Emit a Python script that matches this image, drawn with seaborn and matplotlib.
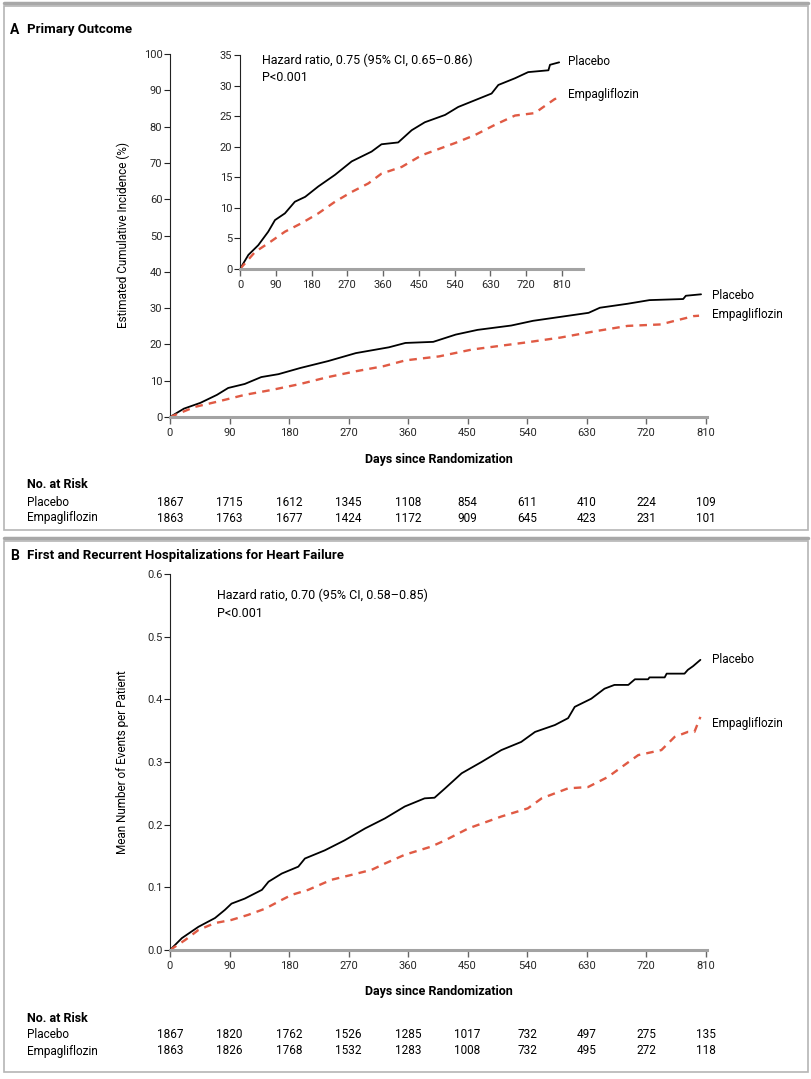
import matplotlib
matplotlib.use('Agg')
import numpy as np
import pandas as pd
import seaborn as sns
import matplotlib.pyplot as plt
import matplotlib.transforms as mtransforms
from matplotlib import font_manager
from matplotlib.patches import Rectangle

# ---- values ----
days_ticks = [0, 90, 180, 270, 360, 450, 540, 630, 720, 810]

# A: primary outcome, cumulative incidence (%)
a_placebo_day = [0, 21, 46, 71, 88, 113, 138, 164, 197, 239, 281, 331, 356, 398, 432,
                 465, 516, 549, 591, 633, 650, 692, 725, 776, 780, 803]
a_placebo_pct = [0, 2.3, 3.9, 6.1, 8.0, 9.1, 11.0, 11.8, 13.5, 15.4, 17.6, 19.2, 20.4, 20.7, 22.7,
                 24.0, 25.2, 26.5, 27.6, 28.7, 30.1, 31.2, 32.2, 32.5, 33.4, 33.8]
a_empa_day = [0, 38, 71, 113, 155, 197, 239, 281, 323, 356, 407, 457, 499, 541,
              591, 642, 692, 742, 759, 792, 800]
a_empa_pct = [0, 2.8, 4.2, 6.1, 7.5, 9.1, 11.0, 12.6, 14.0, 15.6, 16.7, 18.6, 19.6, 20.6,
              21.9, 23.6, 25.1, 25.5, 26.3, 27.8, 27.9]

risk_a_placebo = [1867, 1715, 1612, 1345, 1108, 854, 611, 410, 224, 109]
risk_a_empa = [1863, 1763, 1677, 1424, 1172, 909, 645, 423, 231, 101]

# B: first and recurrent HF hospitalizations, mean events per patient
b_placebo_day = [0, 18, 43, 68, 83, 93, 113, 139, 149, 169, 194, 204, 234, 264, 295, 325, 355,
                 385, 400, 416, 441, 471, 501, 531, 552, 582, 602, 612, 637, 657, 672, 693, 703,
                 723, 725, 748, 751, 778, 783, 791, 802]
b_placebo_mean = [0, .019, .037, .051, .064, .074, .082, .096, .109, .122, .133, .146, .159, .175,
                  .194, .210, .229, .242, .243, .258, .282, .300, .319, .332, .348, .359, .370, .388,
                  .401, .417, .423, .423, .432, .432, .435, .435, .441, .441, .447, .453, .463]
b_empa_day = [0, 23, 43, 68, 93, 118, 144, 169, 184, 209, 244, 275, 305, 325, 355, 395, 416,
              451, 501, 541, 562, 602, 632, 662, 683, 708, 743, 763, 783, 793, 802]
b_empa_mean = [0, .016, .032, .043, .048, .056, .066, .080, .088, .096, .112, .120, .128, .138,
               .152, .165, .175, .194, .213, .226, .242, .258, .260, .276, .292, .311, .319, .340,
               .348, .348, .372]

risk_b_placebo = [1867, 1820, 1762, 1526, 1285, 1017, 732, 497, 275, 135]
risk_b_empa = [1863, 1826, 1768, 1532, 1283, 1008, 732, 495, 272, 118]

RED = '#e05a44'
W, H = 812, 1079

sns.set_theme(style='ticks')
names = {f.name for f in font_manager.fontManager.ttflist}
fam = 'Liberation Sans Narrow' if 'Liberation Sans Narrow' in names else 'Roboto'
plt.rcParams['font.family'] = [fam, 'DejaVu Sans']
plt.rcParams['text.color'] = 'black'
plt.rcParams['axes.labelcolor'] = 'black'

fig = plt.figure(figsize=(W / 100, H / 100), dpi=100)
fig.patch.set_facecolor('white')


def px_axes(left, top, right, bottom):
    # pixel box (from top-left) -> figure fraction axes
    return fig.add_axes([left / W, 1 - bottom / H, (right - left) / W, (bottom - top) / H])


def draw(ax, px, py, ex, ey, lw):
    d1 = pd.DataFrame({'day': px, 'val': py})
    d2 = pd.DataFrame({'day': ex, 'val': ey})
    sns.lineplot(data=d1, x='day', y='val', ax=ax, color='black', lw=lw,
                 errorbar=None, sort=False)
    sns.lineplot(data=d2, x='day', y='val', ax=ax, color=RED, lw=lw + 0.4,
                 linestyle=(0, (3.2, 2.6)), errorbar=None, sort=False)


def style(ax, xmax, ylim, yticks, ylabels, fs=8):
    ax.set_xlim(0, xmax)
    ax.set_ylim(*ylim)
    ax.set_xticks(days_ticks)
    ax.set_xticklabels([str(d) for d in days_ticks])
    ax.set_yticks(yticks)
    ax.set_yticklabels(ylabels)
    ax.set_facecolor('none')
    for s in ['top', 'right']:
        ax.spines[s].set_visible(False)
    ax.spines['bottom'].set_color('#a3a3a3')
    ax.spines['bottom'].set_linewidth(2.2)
    ax.spines['left'].set_color('#222222')
    ax.spines['left'].set_linewidth(0.8)
    ax.tick_params(axis='x', direction='out', length=5, width=1, color='#666666',
                   labelsize=fs, pad=3)
    ax.tick_params(axis='y', direction='out', length=4, width=0.8, color='#222222',
                   labelsize=fs, pad=1.5)
    ax.set_xlabel('')
    ax.set_ylabel('')


def risk_table(ax, axis_y, placebo, empa):
    tr = mtransforms.blended_transform_factory(ax.transData, fig.transFigure)
    fig.text(27 / W, 1 - (axis_y + 68) / H, 'No. at Risk', fontsize=9, fontweight='bold',
             va='center')
    fig.text(27 / W, 1 - (axis_y + 85) / H, 'Placebo', fontsize=8.5, va='center')
    fig.text(27 / W, 1 - (axis_y + 101) / H, 'Empagliflozin', fontsize=8.5, va='center')
    for d, p, e in zip(days_ticks, placebo, empa):
        ax.text(d, 1 - (axis_y + 85) / H, str(p), transform=tr, ha='center', va='center',
                fontsize=8.5)
        ax.text(d, 1 - (axis_y + 101) / H, str(e), transform=tr, ha='center', va='center',
                fontsize=8.5)


# ---------------- panel frames ----------------
fig.add_artist(Rectangle((4 / W, 1 - 530 / H), 804 / W, 524 / H, transform=fig.transFigure,
                         fill=False, ec='#b5b5b5', lw=1.2))
fig.add_artist(Rectangle((4 / W, 1 - 1072 / H), 804 / W, 531 / H, transform=fig.transFigure,
                         fill=False, ec='#b5b5b5', lw=1.2))
fig.add_artist(plt.Line2D([4 / W, 808 / W], [1 - 3 / H, 1 - 3 / H], transform=fig.transFigure,
                          color='#a8a8a8', lw=2.5))
fig.add_artist(plt.Line2D([4 / W, 808 / W], [1 - 538 / H, 1 - 538 / H], transform=fig.transFigure,
                          color='#a8a8a8', lw=2.5))

# ---------------- panel A ----------------
fig.text(10 / W, 1 - 30 / H, 'A', fontsize=10, fontweight='bold', va='center')
fig.text(27 / W, 1 - 30 / H, 'Primary Outcome', fontsize=9.5, fontweight='bold', va='center')

axA = px_axes(170, 54, 707, 417)
draw(axA, a_placebo_day, a_placebo_pct, a_empa_day, a_empa_pct, 1.3)
style(axA, 812, (0, 100), list(range(0, 101, 10)), [str(v) for v in range(0, 101, 10)])
axA.set_ylabel('Estimated Cumulative Incidence (%)', fontsize=8.5)
axA.yaxis.set_label_coords((123 - 170) / 537, 0.5)
axA.yaxis.label.set_va('center')
axA.set_xlabel('Days since Randomization', fontsize=9, fontweight='bold')
axA.xaxis.set_label_coords(0.5, -42 / 363)
axA.xaxis.label.set_va('center')
axA.text(819, 33.6, 'Placebo', fontsize=8.5, va='center', clip_on=False)
axA.text(819, 28.1, 'Empagliflozin', fontsize=8.5, va='center', clip_on=False)
risk_table(axA, 417, risk_a_placebo, risk_a_empa)

# inset
axI = px_axes(240, 55, 583, 269)
draw(axI, a_placebo_day, a_placebo_pct, a_empa_day, a_empa_pct, 1.3)
style(axI, 863, (0, 35), list(range(0, 36, 5)), [str(v) for v in range(0, 36, 5)])
axI.text(55, 34.2, 'Hazard ratio, 0.75 (95% CI, 0.65\u20130.86)', fontsize=9, va='center')
axI.text(55, 31.4, 'P<0.001', fontsize=9, va='center')
axI.text(825, 33.9, 'Placebo', fontsize=8.5, va='center', clip_on=False)
axI.text(825, 28.5, 'Empagliflozin', fontsize=8.5, va='center', clip_on=False)

# ---------------- panel B ----------------
fig.text(10 / W, 1 - 556 / H, 'B', fontsize=10, fontweight='bold', va='center')
fig.text(27 / W, 1 - 556 / H, 'First and Recurrent Hospitalizations for Heart Failure',
         fontsize=9.5, fontweight='bold', va='center')

axB = px_axes(170, 574, 707, 950)
draw(axB, b_placebo_day, b_placebo_mean, b_empa_day, b_empa_mean, 1.3)
b_ticks = [0.0, 0.1, 0.2, 0.3, 0.4, 0.5, 0.6]
style(axB, 812, (0, 0.6), b_ticks, [f'{v:.1f}' for v in b_ticks])
axB.set_ylabel('Mean Number of Events per Patient', fontsize=8.5)
axB.yaxis.set_label_coords((123 - 170) / 537, 0.5)
axB.yaxis.label.set_va('center')
axB.set_xlabel('Days since Randomization', fontsize=9, fontweight='bold')
axB.xaxis.set_label_coords(0.5, -42 / 376)
axB.xaxis.label.set_va('center')
axB.text(71, 0.566, 'Hazard ratio, 0.70 (95% CI, 0.58\u20130.85)', fontsize=9, va='center')
axB.text(71, 0.537, 'P<0.001', fontsize=9, va='center')
axB.text(819, 0.463, 'Placebo', fontsize=8.5, va='center', clip_on=False)
axB.text(819, 0.362, 'Empagliflozin', fontsize=8.5, va='center', clip_on=False)
risk_table(axB, 950, risk_b_placebo, risk_b_empa)

fig.savefig('out.png', dpi=100, facecolor='white')
